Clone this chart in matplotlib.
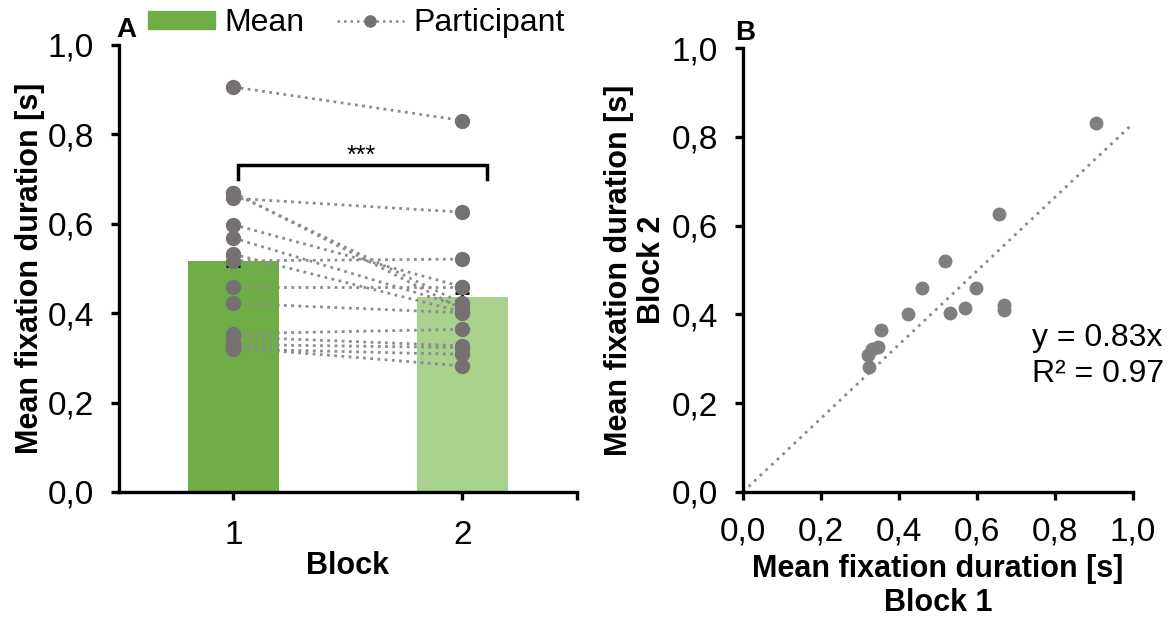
import matplotlib
matplotlib.use("Agg")
import matplotlib.pyplot as plt
from matplotlib.ticker import FuncFormatter
from matplotlib.patches import Patch
from matplotlib.lines import Line2D

plt.rcParams['font.family'] = ['Liberation Sans', 'DejaVu Sans']

# data
blocks = [1, 2]
block_labels = ['1', '2']
mean_duration = [0.517, 0.436]
mean_err = [0.012, 0.010]

block1 = [0.906, 0.657, 0.517, 0.459, 0.598, 0.422, 0.532, 0.568,
          0.668, 0.670, 0.354, 0.347, 0.330, 0.320, 0.323]
block2 = [0.831, 0.626, 0.521, 0.459, 0.459, 0.401, 0.403, 0.415,
          0.422, 0.409, 0.364, 0.327, 0.323, 0.308, 0.282]

slope = 0.83
r2 = 0.97
ticks = [0.0, 0.2, 0.4, 0.6, 0.8, 1.0]

bar_colors = ['#70AD47', '#A9D18E']
pt_color = '#767171'
line_color = '#8C8C8C'

comma = FuncFormatter(lambda v, p: f'{v:.1f}'.replace('.', ','))


def style_axes(ax):
    for s in ['top', 'right']:
        ax.spines[s].set_visible(False)
    for s in ['left', 'bottom']:
        ax.spines[s].set_linewidth(2.4)
    ax.tick_params(width=2.4, length=6, labelsize=24, direction='out', pad=12)
    ax.yaxis.set_major_formatter(comma)


fig = plt.figure(figsize=(11.73, 6.18), dpi=100)

# panel A
axA = fig.add_axes([0.1014, 0.2039, 0.3905, 0.7233])
axA.bar(blocks, mean_duration, width=0.40, color=bar_colors, zorder=1)
axA.errorbar(blocks, mean_duration, yerr=mean_err, fmt='none', ecolor='black',
             elinewidth=2, capsize=5, capthick=2, zorder=2)
for b1, b2 in zip(block1, block2):
    axA.plot(blocks, [b1, b2], linestyle=(0, (1, 1.6)), linewidth=2, color=line_color,
             marker='o', markersize=10, markerfacecolor=pt_color, markeredgecolor=pt_color,
             zorder=3)
axA.set_xlim(0.5, 2.5)
axA.set_ylim(0, 1.0)
axA.set_yticks(ticks)
axA.set_xticks([1, 2, 2.5])
axA.set_xticklabels(block_labels + [''])
style_axes(axA)
axA.tick_params(axis='x', pad=14)
axA.set_xlabel('Block', fontsize=22, fontweight='bold', labelpad=0)
axA.set_ylabel('Mean fixation duration [s]', fontsize=22, fontweight='bold', labelpad=2)

# significance bracket
axA.plot([1.02, 1.02, 2.105, 2.105], [0.70, 0.731, 0.731, 0.70], color='black',
         linewidth=2.5, solid_joinstyle='miter', zorder=4)
axA.text(1.56, 0.752, '***', ha='center', va='center', fontsize=18)
axA.text(-0.005, 1.005, 'A', transform=axA.transAxes, fontsize=20, fontweight='bold',
         ha='left', va='bottom')

# legend
handles = [Patch(color=bar_colors[0]),
           Line2D([], [], linestyle=(0, (1, 1.6)), linewidth=1.8, color=line_color, marker='o',
                  markersize=8, markerfacecolor=pt_color, markeredgecolor=pt_color)]
fig.legend(handles, ['Mean', 'Participant'], loc='center left', bbox_to_anchor=(0.126, 0.962),
           ncol=2, frameon=False, fontsize=23, handlelength=2.1, handleheight=0.5,
           handletextpad=0.3, columnspacing=1.0, borderpad=0, borderaxespad=0)

# panel B
axB = fig.add_axes([0.6334, 0.2039, 0.3325, 0.7184])
axB.plot([0, 1.0], [0, slope * 1.0], linestyle=(0, (1, 1.8)), linewidth=2,
         color='#8C8C8C', zorder=1)
axB.scatter(block1, block2, s=100, color='#7F7F7F', linewidths=0, zorder=2)
axB.set_xlim(0, 1.0)
axB.set_ylim(0, 1.0)
axB.set_xticks(ticks)
axB.set_yticks(ticks)
style_axes(axB)
axB.xaxis.set_major_formatter(comma)
axB.set_xlabel('Mean fixation duration [s]\nBlock 1', fontsize=22, fontweight='bold',
               labelpad=4, linespacing=1.2)
axB.set_ylabel('Mean fixation duration [s]\nBlock 2', fontsize=22, fontweight='bold',
               labelpad=3, linespacing=1.15)
axB.text(0.742, 0.306, f'y = {slope}x\nR² = {r2}', fontsize=23, ha='left', va='center',
         linespacing=1.25)
axB.text(-0.02, 1.005, 'B', transform=axB.transAxes, fontsize=20, fontweight='bold',
         ha='left', va='bottom')

fig.savefig('out.png', dpi=100)
